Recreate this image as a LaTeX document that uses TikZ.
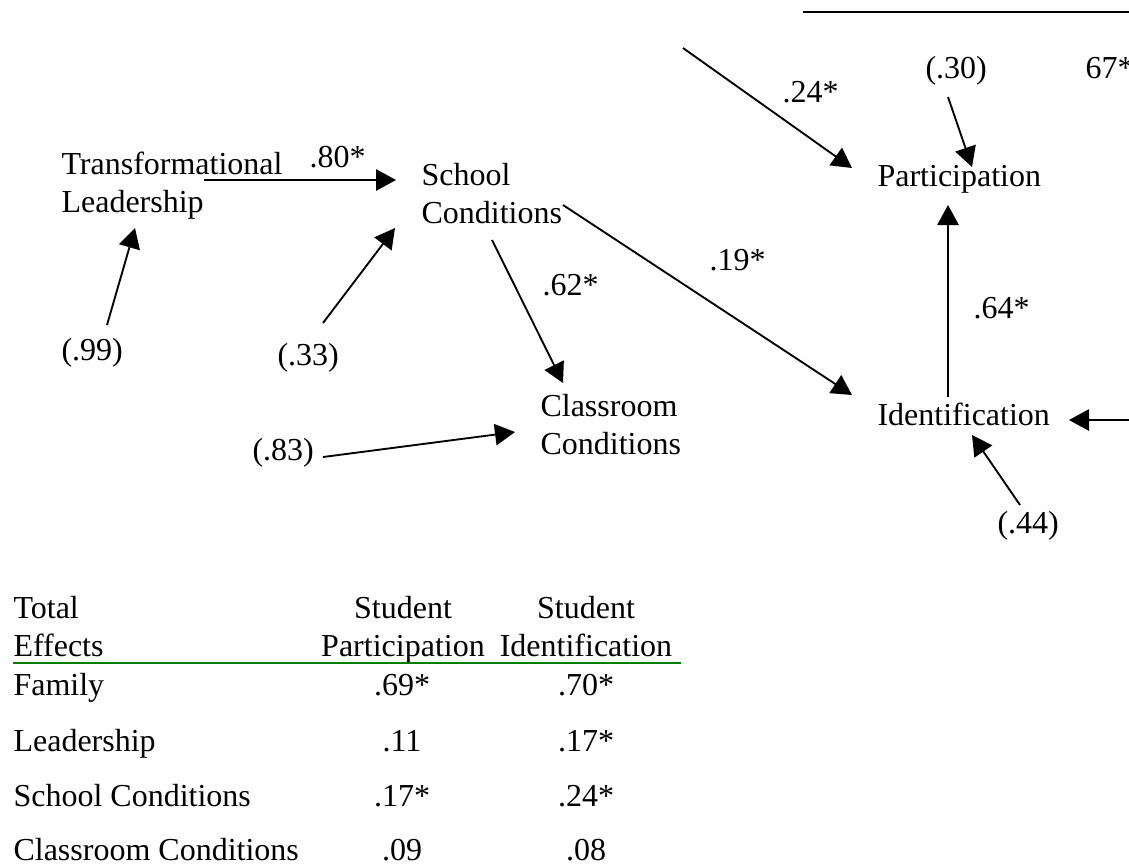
\documentclass[tikz,border=0pt]{standalone}
\usepackage{fontspec}
\setmainfont{Liberation Serif}
\usetikzlibrary{arrows.meta,calc}

\begin{document}
\begin{tikzpicture}[x=0.375pt,y=-0.375pt,
	font=\fontsize{12}{14}\selectfont,
	txt/.style={anchor=base west,inner sep=0pt,align=left},
	val/.style={anchor=base,inner sep=0pt,align=center},
	arr/.style={line width=0.7pt,-{Triangle[length=7.5pt,width=8pt]}}]
			\useasboundingbox (0,0) rectangle (1129,866);
			% path model
			\node[txt] (lead) at (61,212) {Transformational\\Leadership};
			\node[txt] (school) at (421,223) {School\\Conditions};
			\node[txt] (class) at (540,454) {Classroom\\Conditions};
			\node[txt] (part) at (877,186) {Participation};
			\node[txt] (ident) at (877,425) {Identification};
			\node[txt] (e99) at (61,360) {(.99)};
			\node[txt] (e33) at (277,365) {(.33)};
			\node[txt] (e83) at (252,460) {(.83)};
			\node[txt] (e30) at (925,78) {(.30)};
			\node[txt] (e44) at (997,533) {(.44)};
			\node[txt] (c80) at (309,167) {.80*};
			\node[txt] (c62) at (542,295) {.62*};
			\node[txt] (c19) at (709,270) {.19*};
			\node[txt] (c24) at (782,102) {.24*};
			\node[txt] (c64) at (973,318) {.64*};
			\node[txt] (c67) at (1085,78) {67*};
			\coordinate (fam) at (683,48);
			\coordinate (famright) at (1129,420);
			\draw[line width=0.7pt] (803,12) -- (1129,12);
			\draw[arr] ($(lead.base west)+(143,-32)$) -- ($(school.base west)+(-25,-43)$);
			\draw[arr] ($(e99.base west)+(46,-35)$) -- ($(lead.base west)+(74,16)$);
			\draw[arr] ($(e33.base west)+(46,-42)$) -- ($(school.base west)+(-26,5)$);
			\draw[arr] ($(school.base west)+(71,17)$) -- ($(class.base west)+(23,-71)$);
			\draw[arr] ($(e83.base west)+(71,-3)$) -- ($(class.base west)+(-25,-22)$);
			\draw[arr] ($(school.base west)+(142,-18)$) -- ($(ident.base west)+(-25,-30)$);
			\draw[arr] (fam) -- ($(part.base west)+(-25,-18)$);
			\draw[arr] ($(e30.base west)+(23,19)$) -- ($(part.base west)+(95,-19)$);
			\draw[arr] ($(ident.base west)+(71,-28)$) -- ($(part.base west)+(71,19)$);
			\draw[arr] (famright) -- ($(ident.base west)+(192,-5)$);
			\draw[arr] ($(e44.base west)+(23,-28)$) -- ($(ident.base west)+(95,10)$);
			% total effects table
			\node[txt] (thead) at (13,656) {Total\\Effects};
			\node[val] (hpart) at (403,656) {Student\\Participation};
			\node[val] (hident) at (586,656) {Student\\Identification};
			\draw[green!50!black,line width=0.8pt] (13,663) -- (681,663);
			\node[txt] (rfam) at (13,695) {Family};
			\node[txt] (rlead) at (13,751) {Leadership};
			\node[txt] (rschool) at (13,806) {School Conditions};
			\node[txt] (rclass) at (13,860) {Classroom Conditions};
			\node[val] at (402,695) {.69*};
			\node[val] at (586,695) {.70*};
			\node[val] at (402,751) {.11};
			\node[val] at (586,751) {.17*};
			\node[val] at (402,806) {.17*};
			\node[val] at (586,806) {.24*};
			\node[val] at (402,860) {.09};
			\node[val] at (586,860) {.08};
\end{tikzpicture}
\end{document}
